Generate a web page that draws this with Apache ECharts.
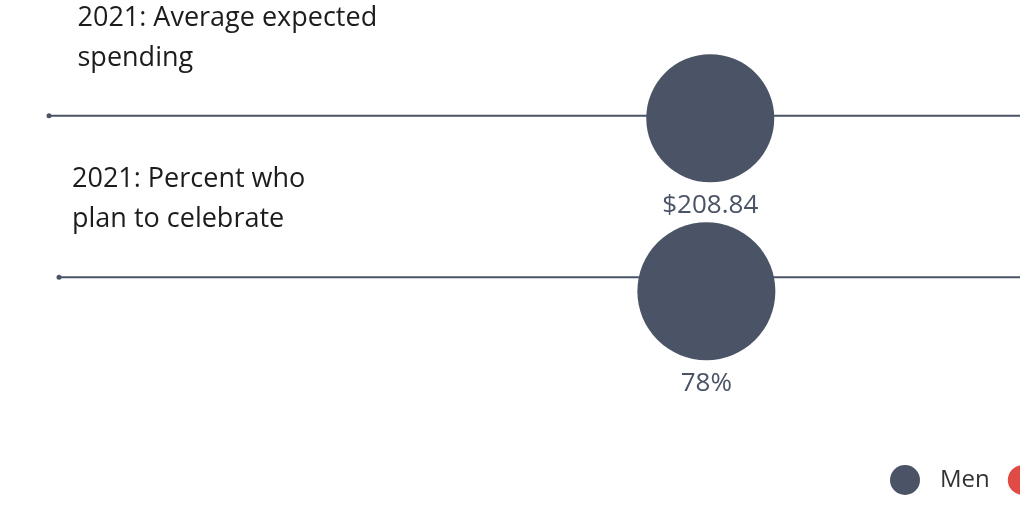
<!DOCTYPE html>
<html>
<head>
<meta charset="utf-8">
<script src="https://cdn.jsdelivr.net/npm/echarts@6/dist/echarts.min.js"></script>
<style>
  html, body { margin: 0; padding: 0; background: #ffffff; }
  #chart { width: 1020px; height: 523px; }
</style>
</head>
<body>
<div id="chart"></div>
<script>
// ---- data ----
const categories = ['2021: Average expected\nspending', '2021: Percent who\nplan to celebrate'];
const lineStart = [0, 1.03];          // start of each row's scale line
const lineEnd = [100, 100];
const menPositions = [68.1, 67.7];    // position of the Men value on each row's scale
const menValues = [208.84, 78];
const menLabels = ['$208.84', '78%'];
const legendNames = ['Men', 'Women'];

// ---- styles ----
const SLATE = '#4a5466';
const RED = '#e04c44';
const FONT = 'Open Sans';
const menSymbolSizes = [128, 138];
const menSymbolOffsets = [[0, 2.5], [0, 14]];
const catLabelDx = [26, 10.5];

const chart = echarts.init(document.getElementById('chart'), null, { renderer: 'canvas' });

const lineSeries = categories.map((cat, i) => ({
  type: 'line',
  name: 'row' + i,
  silent: true,
  clip: false,
  z: 1,
  symbol: 'circle',
  symbolSize: 5,
  showSymbol: true,
  itemStyle: { color: SLATE },
  lineStyle: { color: SLATE, width: 1.8 },
  data: [
    {
      value: [lineStart[i], i + 1],
      label: {
        show: true,
        position: 'right',
        distance: 0,
        align: 'left',
        verticalAlign: 'middle',
        offset: [catLabelDx[i], -77.5],
        formatter: cat,
        fontFamily: FONT,
        fontSize: 27,
        lineHeight: 40,
        color: '#1c1c1c'
      }
    },
    { value: [lineEnd[i], i + 1], symbolSize: 0 }
  ]
}));

const option = {
  animation: false,
  backgroundColor: '#ffffff',
  grid: { left: 49, right: 0, top: 35, bottom: 165, containLabel: false },
  xAxis: { type: 'value', min: 0, max: 100, show: false },
  yAxis: { type: 'value', min: 0.5, max: 2.5, inverse: true, show: false },
  legend: {
    data: legendNames,
    left: 890,
    top: 465,
    width: 400,
    padding: 0,
    orient: 'horizontal',
    icon: 'circle',
    itemWidth: 30,
    itemHeight: 30,
    itemGap: 18,
    textStyle: { fontFamily: FONT, fontSize: 24, color: '#333333', padding: [0, 0, 0, 15] }
  },
  series: [
    ...lineSeries,
    {
      type: 'scatter',
      name: legendNames[0],
      z: 3,
      itemStyle: { color: SLATE, opacity: 1 },
      label: {
        show: true,
        position: 'bottom',
        distance: 10,
        fontFamily: FONT,
        fontSize: 26,
        color: SLATE
      },
      data: menPositions.map((x, i) => ({
        value: [x, i + 1, menValues[i]],
        symbolSize: menSymbolSizes[i],
        symbolOffset: menSymbolOffsets[i],
        label: { formatter: menLabels[i] }
      }))
    },
    {
      type: 'scatter',
      name: legendNames[1],
      itemStyle: { color: RED, opacity: 1 },
      data: []
    }
  ]
};

chart.setOption(option);
</script>
</body>
</html>
